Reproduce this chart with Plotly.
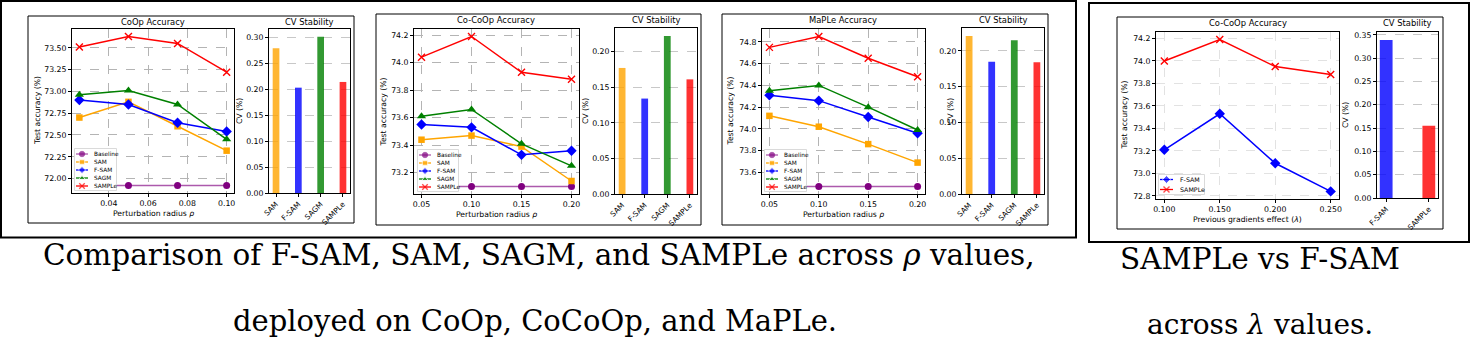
import plotly.graph_objects as go

W, H = 1472, 343

# ---------------- data ----------------
coop_rho = [0.025, 0.05, 0.075, 0.10]
coop_baseline = [71.92, 71.92, 71.92, 71.92]
coop_sam = [72.70, 72.88, 72.60, 72.32]
coop_fsam = [72.90, 72.85, 72.64, 72.54]
coop_sagm = [72.96, 73.01, 72.85, 72.45]
coop_sample = [73.51, 73.63, 73.55, 73.22]

cocoop_rho = [0.05, 0.10, 0.15, 0.20]
cocoop_baseline = [73.10, 73.10, 73.10, 73.10]
cocoop_sam = [73.44, 73.47, 73.39, 73.14]
cocoop_fsam = [73.55, 73.53, 73.33, 73.36]
cocoop_sagm = [73.61, 73.66, 73.41, 73.25]
cocoop_sample = [74.04, 74.19, 73.93, 73.88]

maple_rho = [0.05, 0.10, 0.15, 0.20]
maple_baseline = [73.47, 73.47, 73.47, 73.47]
maple_sam = [74.12, 74.02, 73.86, 73.69]
maple_fsam = [74.31, 74.26, 74.11, 73.96]
maple_sagm = [74.35, 74.40, 74.20, 73.99]
maple_sample = [74.75, 74.85, 74.65, 74.48]

method_names = ["Baseline", "SAM", "F-SAM", "SAGM", "SAMPLe"]
cv_methods = ["SAM", "F-SAM", "SAGM", "SAMPLe"]
coop_cv = [0.279, 0.203, 0.301, 0.214]
cocoop_cv = [0.177, 0.134, 0.222, 0.161]
maple_cv = [0.221, 0.185, 0.215, 0.184]

lam_values = [0.10, 0.15, 0.20, 0.25]
lam_fsam = [73.21, 73.53, 73.09, 72.84]
lam_sample = [74.00, 74.19, 73.95, 73.88]
lam_methods = ["F-SAM", "SAMPLe"]
lam_cv = [0.339, 0.155]

# ---------------- styles ----------------
STYLE = {
    "Baseline": dict(color="#800080", line="rgba(128,0,128,0.65)", symbol="circle", size=7),
    "SAM": dict(color="#FFA500", line="#FFA500", symbol="square", size=6.5),
    "F-SAM": dict(color="#0000FF", line="#0000FF", symbol="diamond", size=8),
    "SAGM": dict(color="#008000", line="#008000", symbol="triangle-up", size=8),
    "SAMPLe": dict(color="#FF0000", line="#FF0000", symbol="x-thin", size=7),
}
TICK = dict(family="DejaVu Sans", size=7.8, color="black")
FONT = "DejaVu Sans"

fig = go.Figure()
layout = dict(width=W, height=H, margin=dict(l=0, r=0, t=0, b=0, autoexpand=False),
              paper_bgcolor="white", plot_bgcolor="white", showlegend=False,
              font=dict(family=FONT, color="black"))
shapes = []
annotations = []
n_ax = [0]


def X(p):
    return p / W


def Y(p):
    return 1 - p / H


def add_axes(x0, x1, y0, y1, xopts, yopts):
    n_ax[0] += 1
    s = "" if n_ax[0] == 1 else str(n_ax[0])
    layout["xaxis" + s] = dict(domain=[X(x0), X(x1)], anchor="y" + s, automargin=False, **xopts)
    layout["yaxis" + s] = dict(domain=[Y(y1), Y(y0)], anchor="x" + s, automargin=False, **yopts)
    return "x" + s, "y" + s


def frame_axis(**kw):
    d = dict(showline=True, mirror=True, linecolor="black", linewidth=0.8,
             ticks="outside", ticklen=3, tickwidth=0.8, tickcolor="black",
             zeroline=False, tickfont=TICK, fixedrange=True)
    d.update(kw)
    return d


def text(x, y, s, size, angle=0, xanchor="center", family=FONT):
    annotations.append(dict(x=X(x), y=Y(y), xref="paper", yref="paper", text=s,
                            showarrow=False, xanchor=xanchor, yanchor="middle",
                            textangle=angle, font=dict(family=family, size=size, color="black")))


def marker_of(name, size=None):
    st = STYLE[name]
    m = dict(symbol=st["symbol"], size=size if size is not None else st["size"], color=st["color"])
    if st["symbol"] == "x-thin":
        m["line"] = dict(color=st["color"], width=1.4)
    return m


def legend_box(names, box, font, first, step, glyph, textx, msize):
    lx0, lx1, ly0, ly1 = box
    w, h = lx1 - lx0, ly1 - ly0
    xa, ya = add_axes(lx0, lx1, ly0, ly1,
                      dict(visible=False, range=[0, w], fixedrange=True),
                      dict(visible=False, range=[h, 0], fixedrange=True))
    fig.add_trace(go.Scatter(x=[0.5, w - 0.5, w - 0.5, 0.5, 0.5], y=[0.5, 0.5, h - 0.5, h - 0.5, 0.5],
                             mode="lines", fill="toself", fillcolor="rgba(255,255,255,0.9)",
                             line=dict(color="#d0d0d0", width=0.8), xaxis=xa, yaxis=ya, hoverinfo="skip"))
    for i, name in enumerate(names):
        yy = first + i * step
        g0, g1 = glyph
        mk = marker_of(name, [0, msize, 0])
        fig.add_trace(go.Scatter(x=[g0, (g0 + g1) / 2, g1], y=[yy, yy, yy], mode="lines+markers",
                                 line=dict(color=STYLE[name]["line"], width=1.3), marker=mk,
                                 xaxis=xa, yaxis=ya, hoverinfo="skip"))
        annotations.append(dict(x=textx, y=yy, xref=xa, yref=ya, text=name, showarrow=False,
                                xanchor="left", yanchor="middle",
                                font=dict(family=FONT, size=font, color="black")))


def line_panel(title, xs, names, series, box, xdtick, xfmt, ydtick, yfmt, xlabel,
               gridcolor, title_y, ylab_x, xlab_y):
    x0, x1, y0, y1 = box
    allv = [v for s in series for v in s]
    lo, hi = min(allv), max(allv)
    pad = 0.05 * (hi - lo)
    xlo, xhi = min(xs), max(xs)
    xpad = 0.05 * (xhi - xlo)
    xa, ya = add_axes(x0, x1, y0, y1,
                      frame_axis(range=[xlo - xpad, xhi + xpad], tick0=0, dtick=xdtick, tickformat=xfmt,
                                 showgrid=True, gridcolor=gridcolor, griddash="dash", gridwidth=0.6),
                      frame_axis(range=[lo - pad, hi + pad], tick0=0, dtick=ydtick, tickformat=yfmt,
                                 showgrid=True, gridcolor=gridcolor, griddash="dash", gridwidth=0.6))
    for name, vals in zip(names, series):
        st = STYLE[name]
        fig.add_trace(go.Scatter(x=xs, y=vals, mode="lines+markers", name=name,
                                 line=dict(color=st["line"], width=1.5), marker=marker_of(name),
                                 xaxis=xa, yaxis=ya, hoverinfo="skip"))
    text((x0 + x1) / 2, title_y, title, 8.4)
    text((x0 + x1) / 2, xlab_y, xlabel, 7.7)
    text(ylab_x, (y0 + y1) / 2, "Test accuracy (%)", 7.7, angle=-90)


def bar_panel(cats, vals, box, title_y, ylab_x, gridcolor="#c8c8c8"):
    x0, x1, y0, y1 = box
    n = len(cats)
    span = (n - 1) + 0.3
    m = 0.05 * span
    xa, ya = add_axes(x0, x1, y0, y1,
                      frame_axis(type="category", range=[-0.15 - m, n - 1 + 0.15 + m], tickangle=-45,
                                 tickfont=dict(family=FONT, size=7.4, color="black"), showgrid=False),
                      frame_axis(range=[0, max(vals) * 1.05], tick0=0, dtick=0.05, tickformat=".2f",
                                 showgrid=True, gridcolor=gridcolor, griddash="dash", gridwidth=0.6))
    fig.add_trace(go.Bar(x=cats, y=vals, width=0.3, opacity=0.8,
                         marker=dict(color=[STYLE[c]["color"] for c in cats], line=dict(width=0)),
                         xaxis=xa, yaxis=ya, hoverinfo="skip"))
    text((x0 + x1) / 2, title_y, "CV Stability", 8.4)
    text(ylab_x, (y0 + y1) / 2, "CV (%)", 7.7, angle=-90)


RHO = "Perturbation radius <i>ρ</i>"

# ---------------- panels ----------------
line_panel("CoOp Accuracy", coop_rho, method_names,
           [coop_baseline, coop_sam, coop_fsam, coop_sagm, coop_sample],
           (72, 234, 29, 193), 0.02, ".2f", 0.25, ".2f", RHO, "#b4b4b4", 22, 37, 213)
bar_panel(cv_methods, coop_cv, (269, 350, 29, 193), 22, 239)

line_panel("Co-CoOp Accuracy", cocoop_rho, method_names,
           [cocoop_baseline, cocoop_sam, cocoop_fsam, cocoop_sagm, cocoop_sample],
           (414, 579, 29, 194), 0.05, ".2f", 0.2, ".1f", RHO, "#b4b4b4", 19.5, 383, 214)
bar_panel(cv_methods, cocoop_cv, (615, 697, 28, 194), 19.5, 585)

line_panel("MaPLe Accuracy", maple_rho, method_names,
           [maple_baseline, maple_sam, maple_fsam, maple_sagm, maple_sample],
           (762, 925, 29, 194), 0.05, ".2f", 0.2, ".1f", RHO, "#b4b4b4", 19.5, 730, 214)
bar_panel(cv_methods, maple_cv, (962, 1044, 28, 194), 19.5, 950)

line_panel("Co-CoOp Accuracy", lam_values, lam_methods, [lam_fsam, lam_sample],
           (1156, 1339, 32, 199), 0.05, ".3f", 0.2, ".1f", "Previous gradients effect (<i>λ</i>)",
           "#e2e2e2", 23.3, 1124, 219)
bar_panel(lam_methods, lam_cv, (1377, 1438, 32, 198), 23.3, 1345)

# legends (drawn on top of the data)
legend_box(method_names, (74, 117, 148, 191), 5.8, 6, 8, (2, 14), 18, 5.5)
legend_box(method_names, (417, 459, 149, 192), 5.8, 6, 8, (2, 14), 18, 5.5)
legend_box(method_names, (764, 807, 149, 192), 5.8, 6, 8, (2, 14), 18, 5.5)
legend_box(lam_methods, (1158, 1205, 174, 195), 6.3, 5.5, 10, (2, 15), 20, 6)

# ---------------- frames ----------------
def rect(x0, y0, x1, y1, w):
    shapes.append(dict(type="rect", xref="paper", yref="paper", x0=X(x0), x1=X(x1), y0=Y(y1), y1=Y(y0),
                       line=dict(color="black", width=w), fillcolor="rgba(0,0,0,0)", layer="above"))


rect(1, 1, 1076, 237.5, 2)
rect(1089, 3, 1469, 242, 2)
rect(28, 16, 354, 223, 1)
rect(376, 14, 701, 225, 1)
rect(722, 14, 1048, 225, 1)
rect(1117, 17, 1443, 229, 1)

# ---------------- captions ----------------
SERIF = "DejaVu Serif"
text(539, 255, "Comparison of F-SAM, SAM, SAGM, and SAMPLe across <i>ρ</i> values,", 29.5, family=SERIF)
text(535, 321, "deployed on CoOp, CoCoOp, and MaPLe.", 29, family=SERIF)
text(1260, 258.5, "SAMPLe vs F-SAM", 29.5, family=SERIF)
text(1260, 324, "across <i>λ</i> values.", 28, family=SERIF)

layout["shapes"] = shapes
layout["annotations"] = annotations
fig.update_layout(**layout)
fig.write_html("out.html", post_script="document.body.style.margin='0px';")
